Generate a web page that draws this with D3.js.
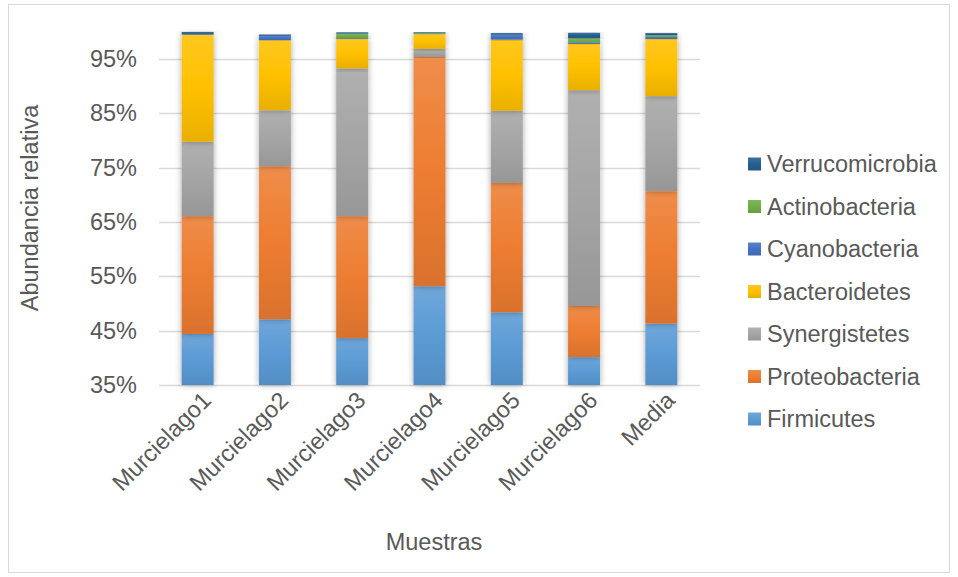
<!DOCTYPE html>
<html>
<head>
<meta charset="utf-8">
<script src="https://cdn.jsdelivr.net/npm/d3@7/dist/d3.min.js"></script>
<style>
  html, body { margin: 0; padding: 0; background: #ffffff; }
  svg { display: block; font-family: "Liberation Sans", Arial, sans-serif; }
</style>
</head>
<body>
<svg id="chart" width="958" height="577"></svg>
<script>
// Samples (x categories)
const muestras = ["Murcielago1", "Murcielago2", "Murcielago3", "Murcielago4", "Murcielago5", "Murcielago6", "Media"];

// Relative abundance per phylum, in percent, one value per sample
const firmicutes      = [44.4, 47.1, 43.65, 53.2, 48.4, 40.15, 46.3];
const proteobacteria  = [21.7, 28.2, 22.45, 42.2, 23.8, 9.4, 24.4];
const synergistetes   = [13.7, 10.3, 27.2, 1.5, 13.3, 39.75, 17.5];
const bacteroidetes   = [19.7, 12.9, 5.4, 2.7, 13.1, 8.5, 10.5];
const cyanobacteria   = [0.15, 0.8, 0.15, 0.05, 0.9, 0.3, 0.4];
const actinobacteria  = [0.0, 0.0, 0.85, 0.15, 0.0, 0.75, 0.3];
const verrucomicrobia = [0.35, 0.25, 0.25, 0.15, 0.3, 1.0, 0.4];

// Series in stacking order (bottom to top)
const seriesNames = ["Firmicutes", "Proteobacteria", "Synergistetes", "Bacteroidetes", "Cyanobacteria", "Actinobacteria", "Verrucomicrobia"];
const seriesValues = [firmicutes, proteobacteria, synergistetes, bacteroidetes, cyanobacteria, actinobacteria, verrucomicrobia];
const seriesColors = ["#5B9BD5", "#ED7D31", "#A5A5A5", "#FFC000", "#4472C4", "#70AD47", "#255E91"];

// Axis tick values
const yTicks = [0.35, 0.45, 0.55, 0.65, 0.75, 0.85, 0.95];

const svg = d3.select("#chart");
const textColor = "#595959";
const fontSize = 23.5;

// Outer chart border
svg.append("rect")
  .attr("x", 8.5).attr("y", 4.5)
  .attr("width", 941).attr("height", 568)
  .attr("fill", "#ffffff")
  .attr("stroke", "#d9d9d9")
  .attr("stroke-width", 1);

const defs = svg.append("defs");

// Soft shadow around each bar segment
const shadow = defs.append("filter")
  .attr("id", "barShadow")
  .attr("x", "-40%").attr("y", "-10%")
  .attr("width", "180%").attr("height", "120%");
shadow.append("feDropShadow")
  .attr("dx", 0).attr("dy", 0)
  .attr("stdDeviation", 3)
  .attr("flood-color", "#000000")
  .attr("flood-opacity", 0.35);

// Vertical gradient per series: lighter at the top, deeper at the bottom
seriesColors.forEach((c, i) => {
  const base = d3.color(c);
  const g = defs.append("linearGradient")
    .attr("id", "grad" + i)
    .attr("x1", 0).attr("y1", 0).attr("x2", 0).attr("y2", 1);
  g.append("stop").attr("offset", "0%").attr("stop-color", d3.interpolateRgb(c, "#ffffff")(0.12));
  g.append("stop").attr("offset", "50%").attr("stop-color", c);
  g.append("stop").attr("offset", "100%").attr("stop-color", base.darker(0.25).formatHex());
});

// Scales
const x = d3.scaleBand()
  .domain(muestras)
  .range([159, 700])
  .paddingInner(0.586)
  .paddingOuter(0.293);

const y = d3.scaleLinear()
  .domain([0.35, 1.0])
  .range([385, 32]);

// Gridlines
svg.append("g")
  .selectAll("line")
  .data(yTicks)
  .join("line")
  .attr("x1", 159).attr("x2", 700)
  .attr("y1", d => Math.round(y(d)) + 0.5)
  .attr("y2", d => Math.round(y(d)) + 0.5)
  .attr("stroke", "#d9d9d9")
  .attr("stroke-width", 1.5);

// Y axis labels
const yAxis = d3.axisLeft(y)
  .tickValues(yTicks)
  .tickFormat(d3.format(".0%"))
  .tickSize(0)
  .tickPadding(0);
const yAxisG = svg.append("g")
  .attr("transform", "translate(137,0)")
  .call(yAxis);
yAxisG.select(".domain").remove();
yAxisG.selectAll("text")
  .attr("fill", textColor)
  .style("font-size", fontSize + "px")
  .style("font-family", "'Liberation Sans', Arial, sans-serif");

// Stack the data
const rows = muestras.map((m, j) => {
  const r = { muestra: m };
  seriesNames.forEach((s, i) => { r[s] = seriesValues[i][j] / 100; });
  return r;
});
const stacked = d3.stack().keys(seriesNames)(rows);

const clampY = v => y(Math.max(v, 0.35));

const layers = svg.append("g")
  .selectAll("g")
  .data(stacked)
  .join("g")
  .attr("fill", (d, i) => `url(#grad${i})`);

layers.selectAll("rect")
  .data(d => d)
  .join("rect")
  .attr("x", d => x(d.data.muestra))
  .attr("width", x.bandwidth())
  .attr("y", d => clampY(d[1]))
  .attr("height", d => Math.max(0, clampY(d[0]) - clampY(d[1])))
  .attr("filter", "url(#barShadow)");

// X axis labels, rotated
const xAxis = d3.axisBottom(x).tickSize(0).tickPadding(0);
const xAxisG = svg.append("g")
  .attr("transform", "translate(0,386)")
  .call(xAxis);
xAxisG.select(".domain").remove();
xAxisG.selectAll("text")
  .attr("fill", textColor)
  .style("font-size", fontSize + "px")
  .style("font-family", "'Liberation Sans', Arial, sans-serif")
  .attr("text-anchor", "end")
  .attr("dy", "0.35em")
  .attr("transform", "translate(9,10) rotate(-45)");

// Axis titles
svg.append("text")
  .attr("x", 434).attr("y", 550)
  .attr("text-anchor", "middle")
  .attr("fill", textColor)
  .style("font-size", fontSize + "px")
  .text("Muestras");

svg.append("text")
  .attr("transform", "translate(38,208) rotate(-90)")
  .attr("text-anchor", "middle")
  .attr("fill", textColor)
  .style("font-size", fontSize + "px")
  .text("Abundancia relativa");

// Legend, top entry is the last stacked series
const legendOrder = d3.range(seriesNames.length).reverse();
const legend = svg.append("g")
  .selectAll("g")
  .data(legendOrder)
  .join("g")
  .attr("transform", (d, k) => `translate(748,${164 + k * 42.5})`);

legend.append("rect")
  .attr("x", 0).attr("y", -6.5)
  .attr("width", 13).attr("height", 13)
  .attr("fill", d => `url(#grad${d})`);

legend.append("text")
  .attr("x", 19).attr("y", 0)
  .attr("dy", "0.35em")
  .attr("fill", textColor)
  .style("font-size", fontSize + "px")
  .text(d => seriesNames[d]);
</script>
</body>
</html>
